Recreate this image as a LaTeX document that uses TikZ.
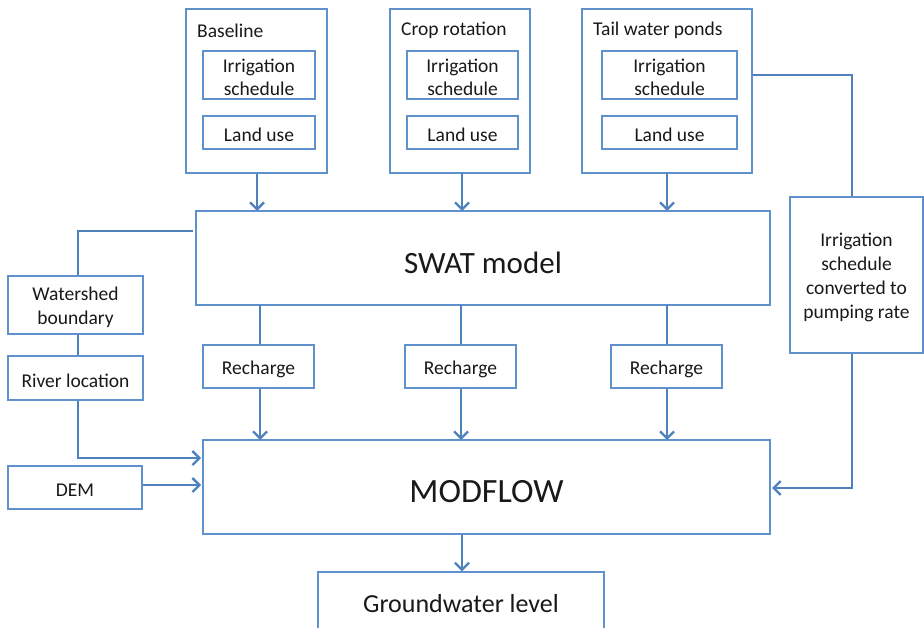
\documentclass[tikz,border=0pt]{standalone}
\usepackage{fontspec}
\setmainfont{Carlito}
\usetikzlibrary{arrows.meta}
\definecolor{lineblue}{RGB}{79,129,189}
\definecolor{boxblue}{RGB}{95,145,205}
\definecolor{txt}{RGB}{25,25,25}
\begin{document}
\begin{tikzpicture}[x=1pt,y=-1pt,
  box/.style={draw=boxblue,line width=1.3pt,fill=white,inner sep=0pt},
  lbl/.style={text=txt,inner sep=0pt,align=center,yshift=-2.5pt,font=\fontsize{19.5}{23.5}\selectfont},
  big/.style={text=txt,inner sep=0pt,yshift=-5pt,font=\fontsize{34}{40}\selectfont},
  conn/.style={draw=lineblue,line width=2.8pt},
  arr/.style={conn,-{Straight Barb[length=7pt,width=14pt,line width=2.3pt]}}]
\useasboundingbox (0,0) rectangle (924,628);
\newcommand{\bx}[5]{\node[box,minimum width={#4-#2},minimum height={#5-#3}] (#1) at ({(#2+#4)/2},{(#3+#5)/2}) {};}
% scenario outer boxes
\bx{base}{186}{9}{327}{173}
\bx{crop}{390}{9}{530}{173}
\bx{tail}{582}{9}{752}{173}
\node[lbl,anchor=west] (baset) at (197,28) {Baseline};
\node[lbl,anchor=west] (cropt) at (401,28) {Crop rotation};
\node[lbl,anchor=west] (tailt) at (593,28) {Tail water ponds};
% inner boxes
\bx{bi}{203}{51}{315}{99}
\bx{bl}{203}{116}{315}{149}
\bx{ci}{407}{51}{518}{99}
\bx{cl}{407}{116}{518}{149}
\bx{ti}{602}{51}{737}{99}
\bx{tl}{602}{116}{737}{149}
\foreach \n in {bi,ci,ti} \node[lbl] at (\n) {Irrigation\\schedule};
\foreach \n in {bl,cl,tl} \node[lbl] at (\n) {Land use};
% SWAT
\bx{swat}{196}{211}{770}{305}
\node[big,font=\fontsize{31}{36}\selectfont] (swatt) at (swat) {SWAT model};
% left inputs
\bx{ws}{8}{276}{143}{334}
\node[lbl] (wst) at (ws) {Watershed\\boundary};
\bx{rl}{8}{356}{143}{400}
\node[lbl] (rlt) at (rl) {River location};
\bx{dem}{8}{466}{142}{509}
\node[lbl] (demt) at (dem) {DEM};
% recharge
\bx{r1}{203}{345}{314}{388}
\bx{r2}{405}{345}{516}{388}
\bx{r3}{611}{345}{722}{388}
\foreach \n in {r1,r2,r3} \node[lbl] at (\n) {Recharge};
% MODFLOW
\bx{mod}{203}{440}{770}{534}
\node[big] (modt) at (mod) {MODFLOW};
% converted
\bx{conv}{790}{197}{923}{353}
\node[lbl,font=\fontsize{19.5}{24}\selectfont] (convt) at (conv) {Irrigation\\schedule\\converted to\\pumping rate};
% groundwater
\bx{gw}{318}{572}{604}{650}
\node[lbl,yshift=2.5pt,font=\fontsize{26}{30}\selectfont] (gwt) at (461,604) {Groundwater level};
% connectors
\draw[arr] (base.south -| 257,0) -- (257,211);
\draw[arr] (462,173) -- (462,211);
\draw[arr] (667,173) -- (667,211);
\foreach \x/\n in {260/r1,461/r2,667/r3} {
  \draw[conn] (\x,305) -- (\n.north -| \x,0);
  \draw[arr] (\n.south -| \x,0) -- (\x,440);
}
\coordinate (sl) at (193,231);
\draw[conn] (sl) -- (78,231) -- (ws.north -| 78,0);
\draw[conn] (ws.south -| 78,0) -- (rl.north -| 78,0);
\draw[arr] (rl.south -| 78,0) -- (78,458) -- (201,458);
\draw[arr] (dem.east |- 0,485) -- (201,485);
\draw[conn] (tail.east |- 0,75) -- (852,75) -- (conv.north -| 852,0);
\draw[arr] (conv.south -| 852,0) -- (852,488) -- (772,488);
\draw[arr] (mod.south -| 462,0) -- (gw.north -| 462,0);
\end{tikzpicture}
\end{document}
